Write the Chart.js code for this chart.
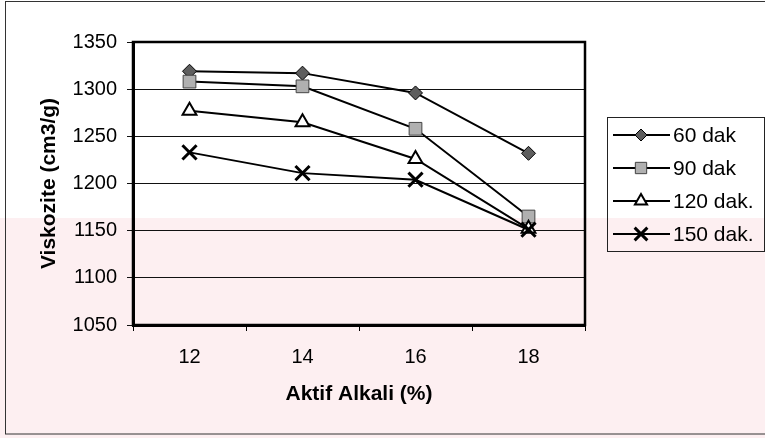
<!DOCTYPE html>
<html>
<head>
<meta charset="utf-8">
<script src="https://cdn.jsdelivr.net/npm/chart.js@4.4.1/dist/chart.umd.min.js"></script>
<style>
  html, body { margin: 0; padding: 0; background: #fff; }
  #wrap { width: 765px; height: 438px; position: relative; }
</style>
</head>
<body>
<div id="wrap"><canvas id="c" width="765" height="438"></canvas></div>
<script>
// Aktif alkali (%) levels on the x axis
const categories = ['12', '14', '16', '18'];
// Cooking times
const seriesNames = ['60 dak', '90 dak', '120 dak.', '150 dak.'];
// Viscosity (cm3/g) for each cooking time
const dak60  = [1319, 1317, 1296, 1232];
const dak90  = [1308, 1303, 1258, 1165];
const dak120 = [1277, 1265, 1226, 1152];
const dak150 = [1233, 1211, 1204, 1151];
// Value axis ticks
const yTicks = [1050, 1100, 1150, 1200, 1250, 1300, 1350];

const FONT = '"Liberation Sans", Arial, Helvetica, sans-serif';

const markerStyles = [
  { pointStyle: 'rectRot',  radius: 7,  bg: '#5e5e5e', border: '#000', bw: 1 },
  { pointStyle: 'rect',     radius: 9,  bg: '#b0b0b0', border: '#444', bw: 1 },
  { pointStyle: 'triangle', radius: 8,  bg: '#ffffff', border: '#000', bw: 2 },
  { pointStyle: 'crossRot', radius: 10, bg: '#000',    border: '#000', bw: 3 }
];
const seriesValues = [dak60, dak90, dak120, dak150];

const datasets = seriesValues.map((vals, i) => ({
  label: seriesNames[i],
  data: vals,
  borderColor: '#000',
  borderWidth: 2,
  tension: 0,
  fill: false,
  pointStyle: markerStyles[i].pointStyle,
  pointRadius: markerStyles[i].radius,
  pointHoverRadius: markerStyles[i].radius,
  pointBackgroundColor: markerStyles[i].bg,
  pointBorderColor: markerStyles[i].border,
  pointBorderWidth: markerStyles[i].bw,
  order: 4 - i
}));

// Page background: white sheet, pale watermark band and thin outer frame
const backdrop = {
  id: 'backdrop',
  beforeDraw(chart) {
    const ctx = chart.ctx;
    ctx.save();
    ctx.fillStyle = '#ffffff';
    ctx.fillRect(0, 0, chart.width, chart.height);
    ctx.fillStyle = '#fdeff1';
    ctx.fillRect(0, 218, chart.width, chart.height - 218);
    ctx.strokeStyle = '#333';
    ctx.lineWidth = 1;
    ctx.strokeRect(5.5, 1.5, 775, 432.5);
    ctx.restore();
  }
};

// Closed frame around the plot area
const plotFrame = {
  id: 'plotFrame',
  beforeDatasetsDraw(chart) {
    const { ctx, chartArea: a } = chart;
    ctx.save();
    ctx.strokeStyle = '#000';
    ctx.lineWidth = 2.5;
    ctx.strokeRect(a.left, a.top, a.right - a.left, a.bottom - a.top);
    ctx.restore();
  }
};

// Boxed legend with line-and-marker samples
const boxLegend = {
  id: 'boxLegend',
  afterDraw(chart) {
    const ctx = chart.ctx;
    const drawPoint = Chart.helpers && Chart.helpers.drawPoint;
    ctx.save();
    ctx.strokeStyle = '#222';
    ctx.lineWidth = 1;
    ctx.strokeRect(607.5, 117.5, 157, 134);
    const rowY = [135, 168, 201, 234];
    chart.data.datasets.forEach((ds, i) => {
      const y = rowY[i];
      ctx.strokeStyle = '#000';
      ctx.lineWidth = 2;
      ctx.beginPath();
      ctx.moveTo(613, y);
      ctx.lineTo(670, y);
      ctx.stroke();
      const m = markerStyles[i];
      if (drawPoint) {
        ctx.fillStyle = m.bg;
        ctx.strokeStyle = m.border;
        ctx.lineWidth = m.bw;
        drawPoint(ctx, { pointStyle: m.pointStyle, radius: m.radius - 1, rotation: 0, borderWidth: m.bw }, 641, y);
      }
      ctx.fillStyle = '#000';
      ctx.font = '21px ' + FONT;
      ctx.textAlign = 'left';
      ctx.textBaseline = 'middle';
      ctx.fillText(ds.label, 673, y + 1);
    });
    ctx.restore();
  }
};

new Chart(document.getElementById('c'), {
  type: 'line',
  data: { labels: categories, datasets },
  options: {
    responsive: false,
    animation: false,
    devicePixelRatio: 1,
    layout: { padding: { left: 5, right: 180, top: 42, bottom: 5 } },
    plugins: {
      legend: { display: false },
      tooltip: { enabled: false }
    },
    scales: {
      x: {
        type: 'category',
        offset: true,
        grid: {
          display: true,
          drawOnChartArea: false,
          drawTicks: true,
          tickLength: 6,
          offset: true,
          color: '#000',
          lineWidth: 1
        },
        border: { display: true, color: '#000', width: 3 },
        ticks: { color: '#000', font: { family: FONT, size: 20 }, padding: 14, maxRotation: 0 },
        title: {
          display: true,
          text: 'Aktif Alkali (%)',
          color: '#000',
          font: { family: FONT, size: 21, weight: 'bold' },
          padding: { top: 0, bottom: 26 }
        },
        afterFit(s) { s.height = 108; }
      },
      y: {
        min: 1050,
        max: 1350,
        afterBuildTicks(s) { s.ticks = yTicks.map(v => ({ value: v })); },
        grid: { color: '#111', lineWidth: 1, drawTicks: true, tickLength: 6 },
        border: { display: true, color: '#000', width: 3 },
        ticks: {
          color: '#000',
          font: { family: FONT, size: 20 },
          padding: 10,
          callback: v => String(v)
        },
        title: {
          display: true,
          text: 'Viskozite (cm3/g)',
          color: '#000',
          font: { family: FONT, size: 21, weight: 'bold' },
          padding: { top: 32, bottom: 0 }
        },
        afterFit(s) { s.width = 128; }
      }
    }
  },
  plugins: [backdrop, plotFrame, boxLegend]
});
</script>
</body>
</html>
